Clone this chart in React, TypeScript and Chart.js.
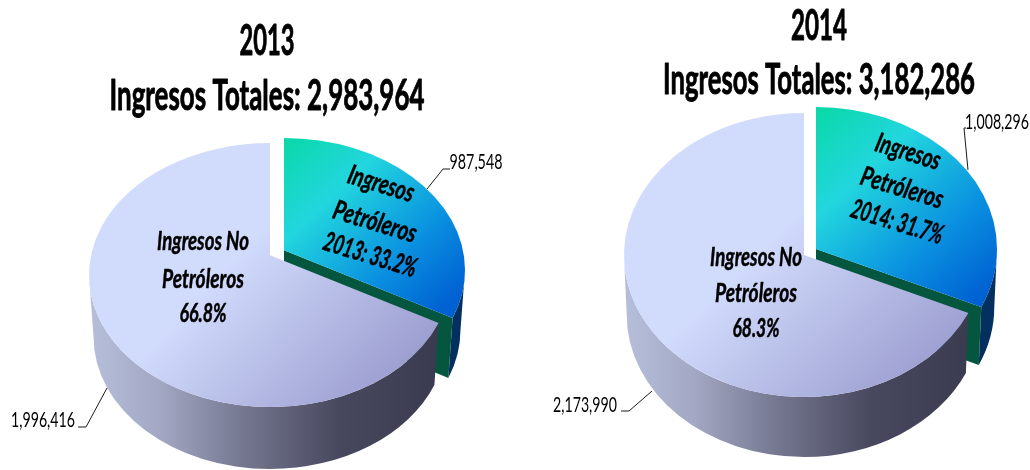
import React, { useEffect, useRef } from "react";
import { Chart, registerables } from "chart.js";

Chart.register(...registerables);

const categories = ["Ingresos Petróleros", "Ingresos No Petróleros"];
const values2013 = [987548, 1996416];
const values2014 = [1008296, 2173990];
const titles2013 = ["2013", "Ingresos Totales: 2,983,964"];
const titles2014 = ["2014", "Ingresos Totales: 3,182,286"];
const oilLabels2013 = ["Ingresos", "Petróleros", "2013: 33.2%"];
const oilLabels2014 = ["Ingresos", "Petróleros", "2014: 31.7%"];
const otherLabels2013 = ["Ingresos No", "Petróleros", "66.8%"];
const otherLabels2014 = ["Ingresos No", "Petróleros", "68.3%"];
const sliceColors = ["#0A90E0", "#C0C8EC"];

const FONT = "Lato, 'Open Sans', sans-serif";

type Txt = { x: number; y: number; w: number };
type Part = { cx: number; cy: number; rx: number; ry: number; e: number; depth: number; taper: number };
type Cfg = {
  oil: Part;
  other: Part;
  oilGrad: number[];
  otherGrad: number[];
  titlePos: Txt[];
  oilText: Txt[];
  otherText: Txt[];
  titles: string[];
  oilLabels: string[];
  otherLabels: string[];
  valuePos: Txt[];
  leaders: number[][][];
};

function project(a: number, e: number) {
  const x = Math.cos(a);
  const y = Math.sin(a);
  const d = 1 - e * y;
  return { x: (x * Math.sqrt(1 - e * e)) / d, y: (y - e) / d };
}

function linear(ctx: CanvasRenderingContext2D, c: number[], stops: [number, string][]) {
  const g = ctx.createLinearGradient(c[0], c[1], c[2], c[3]);
  stops.forEach(([o, col]) => g.addColorStop(o, col));
  return g;
}

function text(ctx: CanvasRenderingContext2D, s: string, t: Txt, font: string, angle = 0, heavy = 0) {
  ctx.save();
  ctx.translate(t.x, t.y);
  ctx.rotate(angle);
  ctx.font = font;
  ctx.fillStyle = "#000";
  ctx.textAlign = "center";
  ctx.textBaseline = "middle";
  ctx.fillText(s, 0, 0, t.w);
  if (heavy > 0) {
    ctx.strokeStyle = "#000";
    ctx.lineWidth = heavy;
    ctx.lineJoin = "round";
    ctx.strokeText(s, 0, 0, t.w);
  }
  ctx.restore();
}

function pie3d(cfg: Cfg) {
  return {
    id: "pie3d",
    beforeDatasetsDraw(chart: any) {
      const ctx: CanvasRenderingContext2D = chart.ctx;
      const arcs = chart.getDatasetMeta(0).data;
      const oilArc = arcs[0].getProps(["startAngle", "endAngle"]);
      const otherArc = arcs[1].getProps(["startAngle", "endAngle"]);
      const O = cfg.oil;
      const N = cfg.other;

      const oe = project(oilArc.endAngle, O.e);
      const oilEnd = Math.atan2(oe.y, oe.x);
      const ns = project(otherArc.startAngle, N.e);
      const otherStart = Math.atan2(ns.y, ns.x);
      const oBottomRx = O.rx * O.taper;
      const nBottomRx = N.rx * N.taper;

      // oil outer wall
      ctx.beginPath();
      ctx.ellipse(O.cx, O.cy, O.rx, O.ry, 0, 0, oilEnd, false);
      ctx.ellipse(O.cx, O.cy + O.depth, oBottomRx, O.ry, 0, oilEnd, 0, true);
      ctx.closePath();
      ctx.fillStyle = "#03305F";
      ctx.fill();

      // oil cut wall
      const ax = O.cx;
      const ay = O.cy - O.e * O.ry;
      const ex = O.cx + O.rx * Math.cos(oilEnd);
      const ey = O.cy + O.ry * Math.sin(oilEnd);
      const bx = O.cx + oBottomRx * Math.cos(oilEnd);
      ctx.beginPath();
      ctx.moveTo(ax, ay);
      ctx.lineTo(ex, ey);
      ctx.lineTo(bx, ey + O.depth);
      ctx.lineTo(ax, ay + O.depth);
      ctx.closePath();
      ctx.fillStyle = "#04563F";
      ctx.fill();

      // oil face
      ctx.beginPath();
      ctx.moveTo(ax, ay);
      ctx.ellipse(O.cx, O.cy, O.rx, O.ry, 0, -Math.PI / 2, oilEnd, false);
      ctx.closePath();
      ctx.fillStyle = linear(ctx, cfg.oilGrad, [
        [0, "#08D9A6"],
        [0.33, "#22D6DE"],
        [0.72, "#0A90E0"],
        [1, "#0062D2"],
      ]);
      ctx.fill();

      // other outer wall
      ctx.beginPath();
      ctx.ellipse(N.cx, N.cy, N.rx, N.ry, 0, otherStart, Math.PI, false);
      ctx.ellipse(N.cx, N.cy + N.depth, nBottomRx, N.ry, 0, Math.PI, otherStart, true);
      ctx.closePath();
      ctx.fillStyle = linear(ctx, [N.cx - N.rx, 0, N.cx + N.rx * 0.92, 0], [
        [0, "#B6BFDA"],
        [0.2, "#A3A8C4"],
        [0.45, "#74768F"],
        [0.72, "#47485E"],
        [1, "#3B3B50"],
      ]);
      ctx.fill();

      // other face
      ctx.beginPath();
      ctx.moveTo(N.cx, N.cy - N.e * N.ry);
      ctx.ellipse(N.cx, N.cy, N.rx, N.ry, 0, otherStart, (3 * Math.PI) / 2, false);
      ctx.closePath();
      ctx.fillStyle = linear(ctx, cfg.otherGrad, [
        [0, "#D1DBFC"],
        [1, "#9B9DCF"],
      ]);
      ctx.fill();
      return false;
    },
    afterDraw(chart: any) {
      const ctx: CanvasRenderingContext2D = chart.ctx;
      const vals: number[] = chart.data.datasets[0].data;

      ctx.strokeStyle = "#1a1a1a";
      ctx.lineWidth = 1;
      cfg.leaders.forEach((pts) => {
        ctx.beginPath();
        pts.forEach((p, i) => (i ? ctx.lineTo(p[0], p[1]) : ctx.moveTo(p[0], p[1])));
        ctx.stroke();
      });

      cfg.titles.forEach((s, i) => text(ctx, s, cfg.titlePos[i], `bold 42px ${FONT}`, 0, 0.9));
      const tilt = (17 * Math.PI) / 180;
      cfg.oilLabels.forEach((s, i) =>
        text(ctx, s, cfg.oilText[i], `italic bold 27px ${FONT}`, tilt, 0.5)
      );
      cfg.otherLabels.forEach((s, i) =>
        text(ctx, s, cfg.otherText[i], `italic bold 27px ${FONT}`, 0, 0.5)
      );
      vals.forEach((v, i) =>
        text(ctx, v.toLocaleString("en-US"), cfg.valuePos[i], `21px ${FONT}`)
      );
    },
  };
}

const cfg2013: Cfg = {
  oil: { cx: 284, cy: 270, rx: 181, ry: 132, e: 0.15, depth: 60, taper: 0.975 },
  other: { cx: 270, cy: 275, rx: 181, ry: 132, e: 0.15, depth: 62, taper: 0.975 },
  oilGrad: [284, 135, 445, 305],
  otherGrad: [210, 285, 355, 425],
  titles: titles2013,
  oilLabels: oilLabels2013,
  otherLabels: otherLabels2013,
  titlePos: [
    { x: 267, y: 41, w: 55 },
    { x: 267, y: 96, w: 315 },
  ],
  oilText: [
    { x: 381, y: 184, w: 68 },
    { x: 375, y: 222, w: 86 },
    { x: 370, y: 255, w: 96 },
  ],
  otherText: [
    { x: 203, y: 241, w: 92 },
    { x: 203, y: 279, w: 82 },
    { x: 203, y: 313, w: 47 },
  ],
  valuePos: [
    { x: 476, y: 162, w: 53 },
    { x: 43, y: 420, w: 64 },
  ],
  leaders: [
    [[427, 189], [443, 169], [450, 169]],
    [[107, 388], [86, 427], [78, 427]],
  ],
};

const cfg2014: Cfg = {
  oil: { cx: 816, cy: 249, rx: 181, ry: 142, e: 0, depth: 58, taper: 0.985 },
  other: { cx: 804, cy: 255, rx: 180, ry: 142, e: 0, depth: 60, taper: 0.985 },
  oilGrad: [816, 105, 985, 290],
  otherGrad: [745, 265, 890, 415],
  titles: titles2014,
  oilLabels: oilLabels2014,
  otherLabels: otherLabels2014,
  titlePos: [
    { x: 819, y: 26, w: 56 },
    { x: 819, y: 80, w: 312 },
  ],
  oilText: [
    { x: 908, y: 152, w: 67 },
    { x: 902, y: 188, w: 85 },
    { x: 897, y: 222, w: 95 },
  ],
  otherText: [
    { x: 756, y: 257, w: 92 },
    { x: 756, y: 293, w: 82 },
    { x: 756, y: 328, w: 47 },
  ],
  valuePos: [
    { x: 997, y: 122, w: 64 },
    { x: 585, y: 405, w: 64 },
  ],
  leaders: [
    [[968, 170], [964, 128], [966, 128]],
    [[652, 391], [629, 411], [621, 411]],
  ],
};

function Pie({ values, cfg }: { values: number[]; cfg: Cfg }) {
  const ref = useRef<HTMLCanvasElement>(null);
  useEffect(() => {
    const chart = new Chart(ref.current as HTMLCanvasElement, {
      type: "pie",
      data: {
        labels: categories,
        datasets: [{ data: values, backgroundColor: sliceColors, borderWidth: 0 }],
      },
      options: {
        animation: false,
        responsive: false,
        events: [],
        plugins: { legend: { display: false }, tooltip: { enabled: false } },
      },
      plugins: [pie3d(cfg)],
    });
    return () => chart.destroy();
  }, [values, cfg]);
  return (
    <canvas
      ref={ref}
      width={1030}
      height={470}
      style={{ position: "absolute", left: 0, top: 0, width: 1030, height: 470 }}
    />
  );
}

export default function App() {
  return (
    <div style={{ position: "fixed", left: 0, top: 0, width: 1030, height: 470, background: "#fff", overflow: "hidden" }}>
      <Pie values={values2013} cfg={cfg2013} />
      <Pie values={values2014} cfg={cfg2014} />
    </div>
  );
}
